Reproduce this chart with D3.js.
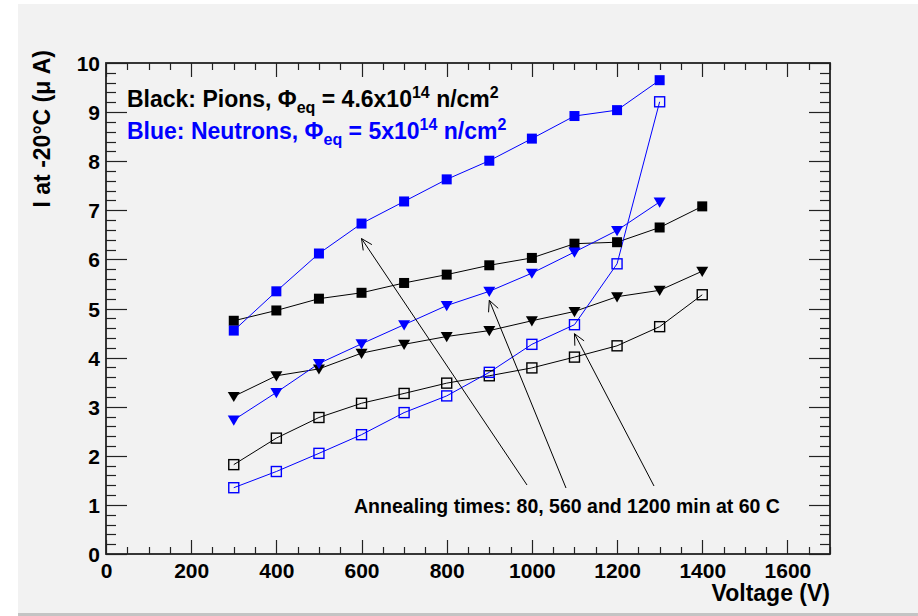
<!DOCTYPE html>
<html>
<head>
<meta charset="utf-8">
<script src="https://cdn.jsdelivr.net/npm/d3@7"></script>
<style>
  html, body { margin: 0; padding: 0; background: #ffffff; }
  svg { display: block; }
  text { font-family: "Liberation Sans", Arial, Helvetica, sans-serif; font-weight: bold; }
</style>
</head>
<body>
<svg id="chart" width="918" height="616"></svg>
<script>
// Bias voltage (V) for each measurement step
const voltage = [300, 400, 500, 600, 700, 800, 900, 1000, 1100, 1200, 1300, 1400];

// Leakage current at -20 C (uA), pion-irradiated sensor
const pion80   = [4.75, 4.96, 5.20, 5.32, 5.52, 5.69, 5.88, 6.03, 6.32, 6.35, 6.65, 7.08];
const pion560  = [3.21, 3.63, 3.77, 4.09, 4.27, 4.43, 4.55, 4.75, 4.94, 5.24, 5.37, 5.76];
const pion1200 = [1.82, 2.36, 2.78, 3.07, 3.27, 3.48, 3.63, 3.79, 4.01, 4.24, 4.63, 5.28];

// Leakage current at -20 C (uA), neutron-irradiated sensor (up to 1300 V)
const neutron80   = [4.55, 5.35, 6.12, 6.73, 7.18, 7.63, 8.01, 8.46, 8.92, 9.04, 9.65];
const neutron560  = [2.73, 3.29, 3.88, 4.28, 4.67, 5.06, 5.35, 5.72, 6.15, 6.59, 7.17];
const neutron1200 = [1.35, 1.68, 2.05, 2.43, 2.88, 3.22, 3.70, 4.27, 4.67, 5.91, 9.21];

// Axis ticks
const xTicks = [0, 200, 400, 600, 800, 1000, 1200, 1400, 1600];
const yTicks = [0, 1, 2, 3, 4, 5, 6, 7, 8, 9, 10];

const BLUE = "#0000ff";
const series = [
  { values: pion80,      color: "#000000", marker: "fsquare" },
  { values: pion560,     color: "#000000", marker: "ftri" },
  { values: pion1200,    color: "#000000", marker: "osquare" },
  { values: neutron80,   color: BLUE,      marker: "fsquare" },
  { values: neutron560,  color: BLUE,      marker: "ftri" },
  { values: neutron1200, color: BLUE,      marker: "osquare" }
];

const svg = d3.select("#chart");
const W = 918, H = 616;

// Canvas background
svg.append("rect").attr("x", 0).attr("y", 0).attr("width", W).attr("height", H).attr("fill", "#ffffff");
svg.append("rect").attr("x", 18).attr("y", 4).attr("width", W - 18).attr("height", 610).attr("fill", "#f2f2f2");
svg.append("rect").attr("x", 18).attr("y", 613).attr("width", W - 18).attr("height", 3).attr("fill", "#c4c4c4");

const frame = { left: 106, right: 830, top: 63, bottom: 554 };
const x = d3.scaleLinear().domain([0, 1700]).range([frame.left, frame.right]);
const y = d3.scaleLinear().domain([0, 10]).range([frame.bottom, frame.top]);

const axisColor = "#222222";
const g = svg.append("g");

// Minor and major tick marks on all four sides
const xMinor = d3.range(0, 1701, 50);
const yMinor = d3.range(0, 10.001, 0.2);
const xMaj = 14, xMin = 7, yMaj = 21, yMin = 10;

const ticks = g.append("g").attr("stroke", axisColor).attr("stroke-width", 1.2);
xMinor.forEach(v => {
  const len = (v % 200 === 0) ? xMaj : xMin;
  const px = Math.round(x(v)) + 0.5;
  ticks.append("line").attr("x1", px).attr("x2", px).attr("y1", frame.bottom).attr("y2", frame.bottom - len);
  ticks.append("line").attr("x1", px).attr("x2", px).attr("y1", frame.top).attr("y2", frame.top + len);
});
yMinor.forEach(v => {
  const isMajor = Math.abs(v - Math.round(v)) < 1e-6;
  const len = isMajor ? yMaj : yMin;
  const py = Math.round(y(v)) + 0.5;
  ticks.append("line").attr("x1", frame.left).attr("x2", frame.left + len).attr("y1", py).attr("y2", py);
  ticks.append("line").attr("x1", frame.right).attr("x2", frame.right - len).attr("y1", py).attr("y2", py);
});

// Frame
g.append("rect")
  .attr("x", frame.left).attr("y", frame.top)
  .attr("width", frame.right - frame.left).attr("height", frame.bottom - frame.top)
  .attr("fill", "none").attr("stroke", axisColor).attr("stroke-width", 1.8);

// Tick labels via d3 axes (tick lines hidden, labels only)
const xAxis = d3.axisBottom(x).tickValues(xTicks).tickSize(0).tickPadding(0).tickFormat(d3.format("d"));
const xg = svg.append("g").attr("transform", `translate(0,${frame.bottom + 9})`).call(xAxis);
xg.select(".domain").remove();
xg.selectAll("text").attr("font-size", 21).attr("fill", "#000").attr("dy", "0.71em")
  .style("font-family", "'Liberation Sans', Arial, sans-serif").style("font-weight", "bold");

const yAxis = d3.axisLeft(y).tickValues(yTicks).tickSize(0).tickPadding(6).tickFormat(d3.format("d"));
const yg = svg.append("g").attr("transform", `translate(${frame.left},0)`).call(yAxis);
yg.select(".domain").remove();
yg.selectAll("text").attr("font-size", 21).attr("fill", "#000").attr("dy", "0.36em")
  .style("font-family", "'Liberation Sans', Arial, sans-serif").style("font-weight", "bold");

// Axis titles
svg.append("text").attr("x", frame.right).attr("y", 601).attr("text-anchor", "end")
  .attr("font-size", 23).attr("fill", "#000").text("Voltage (V)");
svg.append("text").attr("transform", `translate(50,${frame.top - 13}) rotate(-90)`)
  .attr("text-anchor", "end").attr("font-size", 23).attr("fill", "#000")
  .text("I at -20°C (μ A)");

// Curves
const line = d3.line().x((d, i) => x(voltage[i])).y(d => y(d));
const plot = svg.append("g");
series.forEach(s => {
  plot.append("path").datum(s.values).attr("d", line)
    .attr("fill", "none").attr("stroke", s.color).attr("stroke-width", 1);
});

// Markers
const sq = 10, tri = 6;
series.forEach(s => {
  const m = plot.append("g");
  s.values.forEach((v, i) => {
    const cx = x(voltage[i]), cy = y(v);
    if (s.marker === "fsquare") {
      m.append("rect").attr("x", cx - sq / 2).attr("y", cy - sq / 2).attr("width", sq).attr("height", sq)
        .attr("fill", s.color);
    } else if (s.marker === "osquare") {
      m.append("rect").attr("x", cx - sq / 2).attr("y", cy - sq / 2).attr("width", sq).attr("height", sq)
        .attr("fill", "none").attr("stroke", s.color).attr("stroke-width", 1.4);
    } else {
      m.append("path")
        .attr("d", `M${cx - tri},${cy - tri * 0.75} L${cx + tri},${cy - tri * 0.75} L${cx},${cy + tri * 0.95} Z`)
        .attr("fill", s.color);
    }
  });
});

// Legend text
function legendLine(yPos, color, label, flux) {
  const t = svg.append("text").attr("x", 127).attr("y", yPos).attr("font-size", 23).attr("fill", color);
  t.append("tspan").text(label + ", Φ");
  t.append("tspan").attr("font-size", 16).attr("dy", 6).text("eq");
  t.append("tspan").attr("dy", -6).text(" = " + flux + "x10");
  t.append("tspan").attr("font-size", 16).attr("dy", -9).text("14");
  t.append("tspan").attr("dy", 9).text(" n/cm");
  t.append("tspan").attr("font-size", 16).attr("dy", -9).text("2");
}
legendLine(107, "#000000", "Black: Pions", "4.6");
legendLine(139, BLUE, "Blue: Neutrons", "5");

// Annotation with arrows pointing at the neutron curves
svg.append("text").attr("x", 567).attr("y", 513).attr("text-anchor", "middle")
  .attr("font-size", 19.5).attr("fill", "#000")
  .text("Annealing times: 80, 560 and 1200 min at 60 C");

const arrows = [
  { from: [527, 485], toV: 600,  toI: neutron80[3],   off: 15 },
  { from: [566, 488], toV: 900,  toI: neutron560[6],  off: 9 },
  { from: [654, 486], toV: 1100, toI: neutron1200[8], off: 9 }
];
const arr = svg.append("g").attr("stroke", "#000").attr("stroke-width", 1).attr("fill", "none");
arrows.forEach(a => {
  const tx = x(a.toV), ty = y(a.toI) + a.off;
  const [fx, fy] = a.from;
  arr.append("line").attr("x1", fx).attr("y1", fy).attr("x2", tx).attr("y2", ty);
  const ang = Math.atan2(fy - ty, fx - tx);
  const hl = 12, spread = 0.45;
  const p1 = [tx + hl * Math.cos(ang + spread), ty + hl * Math.sin(ang + spread)];
  const p2 = [tx + hl * Math.cos(ang - spread), ty + hl * Math.sin(ang - spread)];
  arr.append("path").attr("d", `M${p1[0]},${p1[1]} L${tx},${ty} L${p2[0]},${p2[1]}`);
});
</script>
</body>
</html>
